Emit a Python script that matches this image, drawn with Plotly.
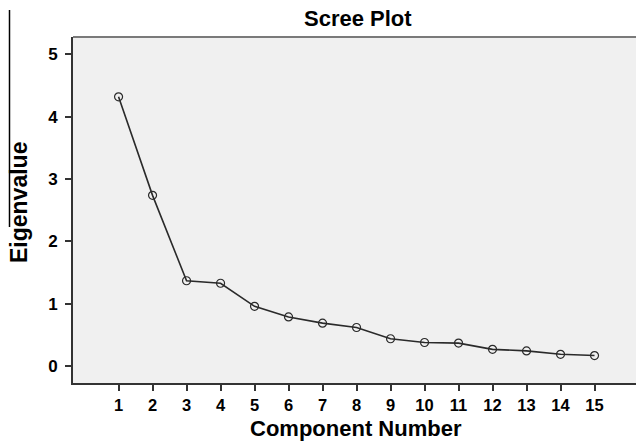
import plotly.graph_objects as go

components = list(range(1, 16))
eigenvalues = [4.32, 2.74, 1.37, 1.33, 0.96, 0.79, 0.69, 0.62, 0.44, 0.38, 0.37, 0.27, 0.245, 0.19, 0.17]
y_ticks = [0, 1, 2, 3, 4, 5]
title_text = "Scree Plot"
x_title = "Component Number"
y_title = "Eigenvalue"

W, H = 636, 443
L, T, B, R = 73, 37, 60, 0

fig = go.Figure()
fig.add_trace(go.Scatter(
    x=components, y=eigenvalues, mode="lines+markers",
    line=dict(color="#2a2a2a", width=1.6),
    marker=dict(symbol="circle-open", size=8, color="#2a2a2a", line=dict(width=1.2, color="#2a2a2a")),
    showlegend=False, hoverinfo="x+y",
))

font_family = "Liberation Sans, Arial, sans-serif"

fig.update_layout(
    width=W, height=H,
    margin=dict(l=L, t=T, b=B, r=R, pad=0, autoexpand=False),
    paper_bgcolor="white",
    plot_bgcolor="#f0f0f0",
    font=dict(family=font_family, color="black"),
    xaxis=dict(
        range=[-0.34, 16.22], tickvals=components, ticktext=[str(c) for c in components],
        showgrid=False, zeroline=False, showline=True, linecolor="#333333", linewidth=2,
        ticks="outside", ticklen=6, tickwidth=1.5, tickcolor="#333333",
        tickfont=dict(size=16.5, family=font_family, weight="bold", color="black"),
        ticklabelstandoff=0, automargin=False,
    ),
    yaxis=dict(
        range=[-0.27, 5.28], tickvals=y_ticks,
        showgrid=False, zeroline=False, showline=True, linecolor="#333333", linewidth=2,
        ticks="outside", ticklen=6, tickwidth=1.5, tickcolor="#333333",
        tickfont=dict(size=17, family=font_family, weight="bold", color="black"),
        ticklabelstandoff=4, automargin=False,
    ),
    shapes=[
        dict(type="line", xref="paper", yref="paper", x0=0, x1=1, y0=1, y1=1,
             line=dict(color="#7a7a7a", width=2)),
        dict(type="line", xref="paper", yref="paper",
             x0=(9.5 - L) / (W - L - R), x1=(9.5 - L) / (W - L - R),
             y0=(H - B - 10) / (H - T - B), y1=(H - B - 227) / (H - T - B),
             line=dict(color="black", width=1.5)),
    ],
    annotations=[
        dict(text=title_text, xref="paper", yref="paper",
             x=(358 - L) / (W - L - R), y=(H - B - 19) / (H - T - B),
             xanchor="center", yanchor="middle", showarrow=False,
             font=dict(size=22, family=font_family, color="black", weight="bold")),
        dict(text=x_title, xref="paper", yref="paper",
             x=(356 - L) / (W - L - R), y=(H - B - 443) / (H - T - B),
             xanchor="center", yanchor="bottom", showarrow=False,
             font=dict(size=22, family=font_family, color="black", weight="bold")),
        dict(text=y_title, xref="paper", yref="paper", textangle=-90,
             x=(19 - L) / (W - L - R), y=(H - B - 203) / (H - T - B),
             xanchor="center", yanchor="middle", showarrow=False,
             font=dict(size=23, family=font_family, color="black", weight="bold")),
    ],
)

fig.write_html("out.html", config={"displayModeBar": False},
               post_script="document.body.style.margin='0';document.body.style.overflow='hidden';")
